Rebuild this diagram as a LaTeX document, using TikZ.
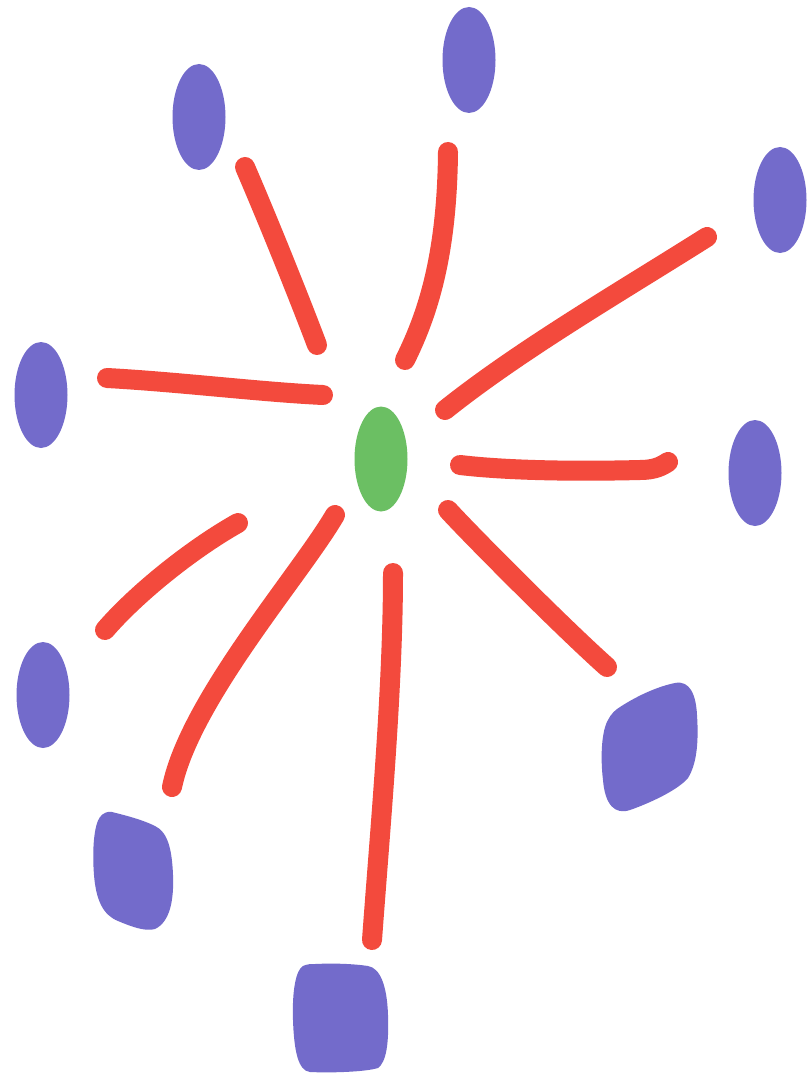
\documentclass[tikz,border=0pt]{standalone}
\usetikzlibrary{shapes.geometric}
\definecolor{nodeblue}{HTML}{736BCB}
\definecolor{hubgreen}{HTML}{6BBF63}
\definecolor{edgered}{HTML}{F34A3D}
\begin{document}
\begin{tikzpicture}[x=1pt,y=-1pt,
  leaf/.style={ellipse,fill=nodeblue,draw=none,inner sep=0pt,minimum width=53pt,minimum height=106pt},
  hub/.style={ellipse,fill=hubgreen,draw=none,inner sep=0pt,minimum width=53pt,minimum height=105pt},
  blob/.style={fill=nodeblue,draw=none},
  edge/.style={draw=edgered,line width=20pt,line cap=round,line join=round}]
\useasboundingbox[fill=white] (0,0) rectangle (807,1078);

% hub and leaves
\node[hub] (c) at (381,459) {};
\node[leaf] (tl) at (199,117) {};
\node[leaf] (t) at (469,60) {};
\node[leaf] (tr) at (780,200) {};
\node[leaf] (l) at (41,395) {};
\node[leaf] (r) at (755,473) {};
\node[leaf] (bl) at (43,695) {};

% irregular leaves
\fill[blob] (620,707) .. controls (640,694) and (660,686) .. (675,683)
  .. controls (690,680) and (696,695) .. (697,715)
  .. controls (699,745) and (696,765) .. (688,778)
  .. controls (678,790) and (650,803) .. (630,810)
  .. controls (615,815) and (605,805) .. (603,780)
  .. controls (600,755) and (602,730) .. (608,720)
  .. controls (611,714) and (615,710) .. (620,707) -- cycle;
\fill[blob] (112,812) .. controls (128,816) and (143,820) .. (155,826)
  .. controls (168,832) and (172,850) .. (173,875)
  .. controls (174,900) and (170,922) .. (155,929)
  .. controls (145,932) and (130,926) .. (118,921)
  .. controls (103,915) and (96,900) .. (94,875)
  .. controls (92,850) and (94,825) .. (100,817)
  .. controls (103,813) and (108,811) .. (112,812) -- cycle;
\fill[blob] (315,964) .. controls (335,963) and (355,964) .. (368,966)
  .. controls (380,968) and (387,985) .. (388,1015)
  .. controls (389,1045) and (386,1062) .. (378,1068)
  .. controls (365,1072) and (330,1073) .. (310,1072)
  .. controls (298,1071) and (294,1050) .. (293,1020)
  .. controls (292,990) and (296,970) .. (303,966)
  .. controls (307,964) and (311,964) .. (315,964) -- cycle;

% connector end points
\coordinate (a1) at (245,167); \coordinate (b1) at (317,345);
\coordinate (a2) at (448,152); \coordinate (b2) at (405,360);
\coordinate (a3) at (707,237); \coordinate (b3) at (445,410);
\coordinate (a4) at (107,378); \coordinate (b4) at (323,395);
\coordinate (a5) at (460,465); \coordinate (m5) at (640,470); \coordinate (b5) at (668,462);
\coordinate (a6) at (238,523); \coordinate (b6) at (105,630);
\coordinate (a7) at (335,515); \coordinate (b7) at (172,787);
\coordinate (a8) at (393,573); \coordinate (b8) at (372,940);
\coordinate (a9) at (448,510); \coordinate (b9) at (607,667);

% connectors
\draw[edge] (a1) .. controls (270,225) and (300,300) .. (b1);
\draw[edge] (a2) .. controls (447,250) and (430,310) .. (b2);
\draw[edge] (a3) .. controls (620,292) and (520,350) .. (b3);
\draw[edge] (a4) .. controls (180,382) and (260,392) .. (b4);
\draw[edge] (a5) .. controls (520,472) and (600,471) .. (m5) .. controls (655,470) and (662,466) .. (b5);
\draw[edge] (a6) .. controls (190,550) and (135,595) .. (b6);
\draw[edge] (a7) .. controls (300,575) and (190,700) .. (b7);
\draw[edge] (a8) .. controls (393,690) and (380,830) .. (b8);
\draw[edge] (a9) .. controls (468,532) and (560,625) .. (b9);
\end{tikzpicture}
\end{document}
